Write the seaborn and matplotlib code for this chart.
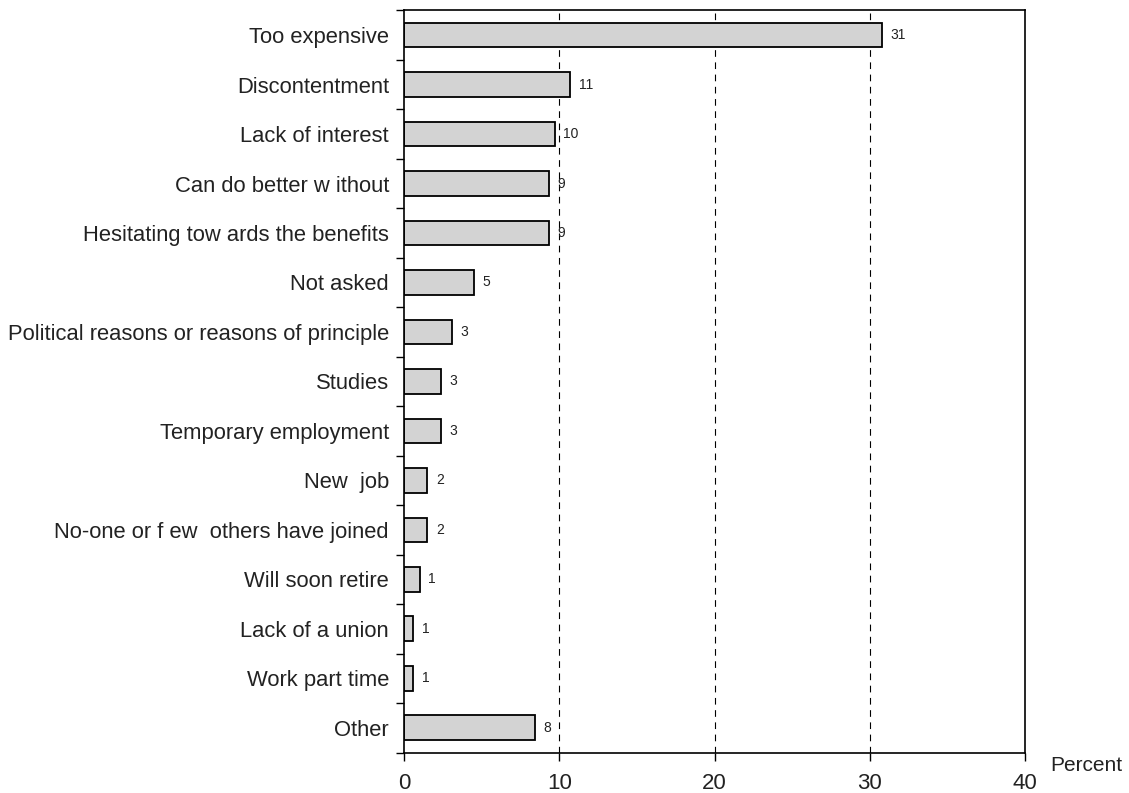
import numpy as np
import pandas as pd
import matplotlib.pyplot as plt
import seaborn as sns

reasons = ['Too expensive', 'Discontentment', 'Lack of interest', 'Can do better w ithout',
           'Hesitating tow ards the benefits', 'Not asked', 'Political reasons or reasons of principle',
           'Studies', 'Temporary employment', 'New  job', 'No-one or f ew  others have joined',
           'Will soon retire', 'Lack of a union', 'Work part time', 'Other']
percent = [30.8, 10.7, 9.7, 9.3, 9.3, 4.5, 3.1, 2.4, 2.4, 1.5, 1.5, 1.0, 0.6, 0.6, 8.4]
shown = ['31', '11', '10', '9', '9', '5', '3', '3', '3', '2', '2', '1', '1', '1', '8']

df = pd.DataFrame({'reason': reasons, 'percent': percent})

sns.set_style('ticks')
plt.rcParams['font.family'] = ['Liberation Sans', 'DejaVu Sans']

fig = plt.figure(figsize=(11.29, 7.93), dpi=100)
ax = fig.add_axes([0.358, 0.051, 0.550, 0.936])

sns.barplot(data=df, x='percent', y='reason', orient='h', color='#d3d3d3',
            edgecolor='black', linewidth=1.3, width=0.5, saturation=1, ax=ax)

# value labels next to each bar
for i, (v, s) in enumerate(zip(percent, shown)):
    ax.annotate(s, (v, i), xytext=(6, 0), textcoords='offset points',
                va='center', ha='left', fontsize=10, color='#222222')

ax.set_xlim(0, 40)
ax.set_ylim(14.5, -0.5)
ax.set_xticks([0, 10, 20, 30, 40])
for x in [10, 20, 30]:
    ax.axvline(x, color='black', linestyle=(0, (6, 5)), linewidth=0.8, zorder=0)

ax.set_yticks(np.arange(-0.5, 15, 1), minor=True)
ax.tick_params(axis='y', which='major', length=0, labelsize=15.8, pad=11, labelcolor='#222222')
ax.tick_params(axis='y', which='minor', length=6, width=1, color='black')
ax.tick_params(axis='x', length=6, width=1, labelsize=16, pad=9, color='black', labelcolor='#222222')
for sp in ax.spines.values():
    sp.set_visible(True)
    sp.set_linewidth(1.2)
    sp.set_color('black')
ax.set_xlabel('')
ax.set_ylabel('')
ax.text(1.098, -0.005, 'Percent', transform=ax.transAxes, fontsize=15, ha='center', va='top',
        color='#222222')

fig.savefig('out.png', dpi=100)
